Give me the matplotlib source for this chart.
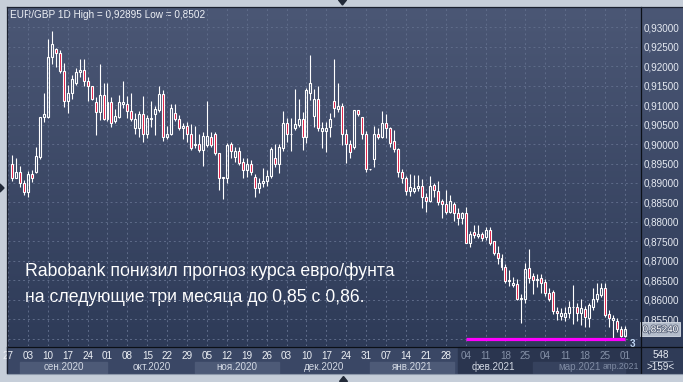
import numpy as np
import pandas as pd
import matplotlib
matplotlib.use("Agg")
from matplotlib import pyplot as plt
from matplotlib.patches import Rectangle, Polygon
from matplotlib.colors import LinearSegmentedColormap
from matplotlib import patheffects as pe

plt.rcParams['font.family'] = ['Liberation Sans', 'DejaVu Sans']

# daily EUR/GBP candles, 28 Aug 2020 - 01 Apr 2021
dates = pd.bdate_range("2020-08-28", "2021-04-01")
opens = [
    .8950, .8914, .8927, .8899, .8877, .8923, .8929, .8966, .9069, .9070,
    .9223, .9244, .9233, .9189, .9111, .9130, .9156, .9184, .9190, .9162,
    .9150, .9107, .9083, .9126, .9064, .9107, .9060, .9070, .9104, .9102,
    .9085, .9040, .9040, .9076, .9025, .9064, .9076, .9087, .9128, .9019,
    .9027, .9081, .9064, .9040, .9046, .9027, .8997, .9000, .8985, .8997,
    .9019, .9027, .8976, .8912, .8912, .8999, .8967, .8982, .8954, .8933,
    .8950, .8916, .8888, .8899, .8905, .8919, .8965, .8948, .8989, .9053,
    .9025, .9040, .9049, .9064, .9017, .9130, .9073, .9115, .9033, .9033,
    .9043, .9110, .9090, .9098, .9027, .9000, .8993, .9087, .9069, .9025,
    .8935, .8961, .9027, .9019, .9053, .9040, .9009, .8986, .8929, .8914,
    .8880, .8880, .8886, .8892, .8863, .8854, .8895, .8880, .8854, .8846,
    .8826, .8846, .8824, .8809, .8822, .8746, .8773, .8764, .8768, .8760,
    .8779, .8751, .8721, .8706, .8683, .8649, .8638, .8640, .8603, .8603,
    .8682, .8661, .8651, .8655, .8646, .8616, .8620, .8571, .8558, .8556,
    .8565, .8580, .8580, .8565, .8575, .8552, .8582, .8601, .8612, .8629,
    .8563, .8549, .8546, .8524, .8506,
]
highs = [
    .8973, .8965, .8944, .8907, .8931, .8933, .8993, .9070, .9130, .9269,
    .92895, .9248, .9242, .9209, .9152, .9177, .9195, .9218, .9218, .9173,
    .9150, .9122, .9205, .9156, .9158, .9122, .9090, .9125, .9162, .9123,
    .9130, .9079, .9085, .9123, .9075, .9110, .9099, .9149, .9139, .9046,
    .9104, .9104, .9075, .9053, .9057, .9051, .9046, .9027, .9032, .9111,
    .9032, .9032, .8976, .8916, .9003, .9006, .8993, .8993, .8963, .8963,
    .8959, .8923, .8912, .8938, .8933, .8993, .9001, .9001, .9086, .9066,
    .9066, .9141, .9115, .9083, .9143, .9229, .9141, .9149, .9057, .9057,
    .9081, .9218, .9156, .9105, .9038, .9010, .9088, .9087, .9069, .9033,
    .8937, .9046, .9040, .9086, .9076, .9045, .9036, .8989, .8935, .8918,
    .8923, .8920, .8920, .8909, .8873, .8918, .8901, .8905, .8858, .8882,
    .8869, .8852, .8835, .8826, .8837, .8776, .8792, .8793, .8773, .8787,
    .8787, .8751, .8738, .8717, .8693, .8676, .8659, .8652, .8614, .8695,
    .8729, .8668, .8666, .8666, .8652, .8629, .8625, .8582, .8578, .8582,
    .8597, .8638, .8591, .8601, .8584, .8591, .8629, .8644, .8644, .8644,
    .8573, .8561, .8554, .8532, .8532,
]
lows = [
    .8905, .8912, .8890, .8869, .8864, .8903, .8925, .8962, .9057, .9066,
    .9207, .9199, .9182, .9094, .9081, .9115, .9152, .9173, .9150, .9111,
    .9113, .9023, .9062, .9062, .9059, .9045, .9053, .9066, .9092, .9066,
    .9060, .9027, .9017, .9006, .9015, .9043, .9022, .9083, .9009, .9013,
    .9023, .9060, .9036, .9014, .9006, .8985, .8989, .8979, .8944, .8993,
    .8993, .8972, .8882, .8860, .8901, .8965, .8954, .8946, .8912, .8916,
    .8920, .8865, .8873, .8890, .8893, .8912, .8942, .8925, .8982, .9006,
    .8982, .9036, .9045, .8985, .9002, .9113, .9043, .9033, .8990, .8980,
    .9019, .9069, .9083, .8997, .8952, .8965, .8986, .9072, .9012, .8929,
    .8934, .8942, .9012, .9015, .9015, .8993, .8980, .8916, .8899, .8869,
    .8866, .8875, .8880, .8835, .8826, .8852, .8865, .8843, .8809, .8820,
    .8822, .8803, .8792, .8794, .8745, .8736, .8758, .8758, .8751, .8753,
    .8740, .8715, .8693, .8676, .8642, .8635, .8632, .8599, .8539, .8592,
    .8642, .8615, .8633, .8618, .8609, .8597, .8562, .8548, .8548, .8546,
    .8552, .8537, .8546, .8535, .8530, .8530, .8573, .8595, .8608, .8556,
    .8530, .8502, .8518, .8503, .8503,
]
closes = [
    .8912, .8927, .8899, .8877, .8923, .8914, .8969, .9069, .9076, .9223,
    .9257, .9233, .9189, .9111, .9130, .9166, .9186, .9190, .9162, .9150,
    .9117, .9083, .9126, .9064, .9107, .9053, .9073, .9107, .9109, .9085,
    .9064, .9064, .9076, .9025, .9066, .9066, .9090, .9128, .9019, .9027,
    .9092, .9064, .9040, .9046, .9027, .8989, .9000, .8985, .9021, .9021,
    .8997, .8976, .8912, .8916, .8997, .8982, .8982, .8952, .8933, .8949,
    .8929, .8888, .8899, .8905, .8919, .8987, .8948, .8993, .9053, .9027,
    .9027, .9051, .9064, .9017, .9139, .9158, .9115, .9040, .9040, .9040,
    .9064, .9092, .9098, .9027, .9000, .8980, .9087, .9077, .9025, .8935,
    .8936, .9025, .9019, .9053, .9040, .9003, .8986, .8929, .8914, .8880,
    .8889, .8886, .8892, .8863, .8854, .8892, .8882, .8852, .8846, .8826,
    .8854, .8824, .8809, .8822, .8746, .8770, .8766, .8770, .8758, .8779,
    .8746, .8721, .8706, .8683, .8649, .8651, .8644, .8603, .8604, .8680,
    .8656, .8651, .8652, .8642, .8616, .8602, .8571, .8565, .8565, .8565,
    .8580, .8582, .8567, .8578, .8555, .8586, .8603, .8614, .8629, .8561,
    .8552, .8552, .8524, .8506, .8524,
]

target_level = 0.85          # Rabobank target line
target_from = "2021-02-04"
shade_from = "2021-02-02"    # date scale turns darker from here
bars_info = ["548", ">159<"]
headline = ["Rabobank понизил прогноз курса евро/фунта",
            "на следующие три месяца до 0,85 с 0,86."]
months_ru = {1: "янв", 2: "фев", 3: "мар", 4: "апр", 9: "сен", 10: "окт", 11: "ноя", 12: "дек"}

FS = 7.1   # UI font size
W, H = 683, 382
fig = plt.figure(figsize=(W / 100, H / 100), dpi=100, facecolor="#c6ced9")

# background panel (pixel coordinates)
bg = fig.add_axes([0, 0, 1, 1])
cmap = LinearSegmentedColormap.from_list("panel", ["#4b5775", "#2e3b58"])
bg.imshow(np.linspace(0, 1, 256)[:, None], cmap=cmap, extent=(7, W, 347, 7),
          aspect="auto", interpolation="bilinear")
bg.set_xlim(0, W)
bg.set_ylim(H, 0)
bg.axis("off")

hi, lo = max(highs), min(lows)
fmt = lambda v: f"{v:.5f}".replace(".", ",")
bg.text(10, 14.5, f"EUR/GBP 1D High = {fmt(hi)} Low = {fmt(lo).rstrip('0')}",
        fontsize=7.2, color="#eef1f6", va="center")

# price chart
ax = fig.add_axes([8 / W, 36 / H, 632 / W, 339 / H])
ax.patch.set_alpha(0)
x = np.arange(len(dates))
o, h, l, c = map(np.array, (opens, highs, lows, closes))
up = c >= o
body_lo = np.minimum(o, c)
body_hi = np.maximum(o, c)

XMAX = 157.8
ax.set_xlim(-1.0, XMAX)
ax.set_ylim(0.84810, 0.93522)

def ay(py):
    return (346 - py) / 339

xt = ax.get_xaxis_transform()

# weekly ticks (Thursdays) + grid
thu = [i for i, d in enumerate(dates) if d.weekday() == 3]
tick_pos = [thu[0] - 5] + thu
tick_lab = [(dates[thu[0]] - pd.Timedelta(days=7)).strftime("%d")] + [dates[i].strftime("%d") for i in thu]
ax.set_xticks(tick_pos)
ax.set_xticklabels(tick_lab)
for lv in np.arange(0.85, 0.9301, 0.005):
    ax.axhline(lv, color="#5f6c8a", lw=0.7, ls=(0, (2, 3)), zorder=1)
for p in tick_pos:
    ax.axvline(p, color="#5f6c8a", lw=0.7, ls=(0, (2, 3)), zorder=1)

ax.set_yticks(np.round(np.arange(0.855, 0.9301, 0.005), 3))
ax.yaxis.set_major_formatter(plt.FuncFormatter(lambda v, _: fmt(v)))
ax.tick_params(axis="y", length=0, labelleft=False, labelright=True, pad=2.3,
               labelsize=FS, labelcolor="#e6eaf2")
ax.tick_params(axis="x", length=0, pad=3.6, labelsize=FS, labelcolor="#eef1f6")
for s in ax.spines.values():
    s.set_visible(False)

# date scale strip
i_shade = dates.get_loc(pd.Timestamp(shade_from))
ax.add_patch(Rectangle((-1.3, ay(373)), 160, ay(347) - ay(373), transform=xt,
                       color="#3a4765", clip_on=False, zorder=0.5))
ax.add_patch(Rectangle((i_shade, ay(373)), 158 - i_shade, ay(347) - ay(373), transform=xt,
                       color="#2a354f", clip_on=False, zorder=0.6))
for t, p in zip(ax.get_xticklabels(), tick_pos):
    if p >= i_shade:
        t.set_color("#8591a8")

starts = [i for i in range(1, len(dates)) if dates[i].month != dates[i - 1].month]
bounds = starts + [XMAX]
for k, s in enumerate(starts):
    e = bounds[k + 1]
    dark = s >= i_shade
    if k % 2 == 0:
        ax.add_patch(Rectangle((s, ay(373)), e - s, ay(361.5) - ay(373), transform=xt,
                               color="#36425e" if dark else "#4d5a77", clip_on=False, zorder=0.7))
    d = dates[s]
    last = e == XMAX   # month cut by the price scale: keep its label inside
    ax.text(XMAX - 0.3 if last else (s + e) / 2, ay(366.8), f"{months_ru[d.month]}.{d.year}",
            transform=xt, ha="right" if last else "center", va="center",
            fontsize=6.3 if last else FS,
            clip_on=False, color="#7f8ba3" if dark else "#d3d9e4")

# candles
ax.vlines(x, l, body_lo, color="white", lw=0.8, zorder=3)
ax.vlines(x, body_hi, h, color="white", lw=0.8, zorder=3)
ax.bar(x, body_hi - body_lo, bottom=body_lo, width=0.5,
       color=["none" if u else "#e0103a" for u in up],
       edgecolor="white", linewidth=0.8, zorder=4)

# target line
i_t = dates.get_loc(pd.Timestamp(target_from))
ax.hlines(target_level, i_t, x[-1], color="#ff00ff", lw=2.3, zorder=5)
ax.text(x[-1] + 1.3, target_level - 0.0002, "3", fontsize=7, color="#c2d8f4",
        va="top", ha="left", fontweight="bold", clip_on=False)

# last price tag
tag = ax.text(1.004, c[-1], fmt(c[-1]), transform=ax.get_yaxis_transform(),
              fontsize=FS, color="white", va="center", ha="left", clip_on=False,
              bbox=dict(boxstyle="square,pad=0.22", fc="#b4bdcb", ec="#d6dce6", lw=0.6))
tag.set_path_effects([pe.withStroke(linewidth=1.2, foreground="#5a657c")])

# headline
bg.text(25, 271, headline[0], fontsize=12.7, color="white", va="center", zorder=6)
bg.text(25, 298, headline[1], fontsize=12.7, color="white", va="center", zorder=6)

# chrome overlay
top = fig.add_axes([0, 0, 1, 1])
top.set_xlim(0, W)
top.set_ylim(H, 0)
top.axis("off")
top.add_patch(Rectangle((641, 347), 42, 26, color="#2f3b57"))
top.plot([640.5, 640.5], [7, 373], color="#0c1017", lw=0.9)
top.plot([7, W], [346.5, 346.5], color="#0c1017", lw=0.9)
top.plot([7, W], [6.5, 6.5], color="#1b2130", lw=0.9)
top.plot([6.5, 6.5], [7, 373], color="#1b2130", lw=0.9)
top.plot([7, W], [373.5, 373.5], color="#8e99ab", lw=0.8)
top.text(661, 354.5, bars_info[0], fontsize=FS, color="#e6eaf2", ha="center", va="center")
top.plot([650, 672], [360.5, 360.5], color="#8894aa", lw=0.6)
top.text(661, 366.5, bars_info[1], fontsize=FS, color="#e6eaf2", ha="center", va="center")
for tri in ([(338.5, 0), (346.5, 0), (342.5, 5)],
            [(339.5, 381.5), (347.5, 381.5), (343.5, 376.5)],
            [(0, 184), (0, 192), (4, 188)]):
    top.add_patch(Polygon(tri, closed=True, color="#222a38"))

fig.savefig("out.png", dpi=100, facecolor=fig.get_facecolor())
